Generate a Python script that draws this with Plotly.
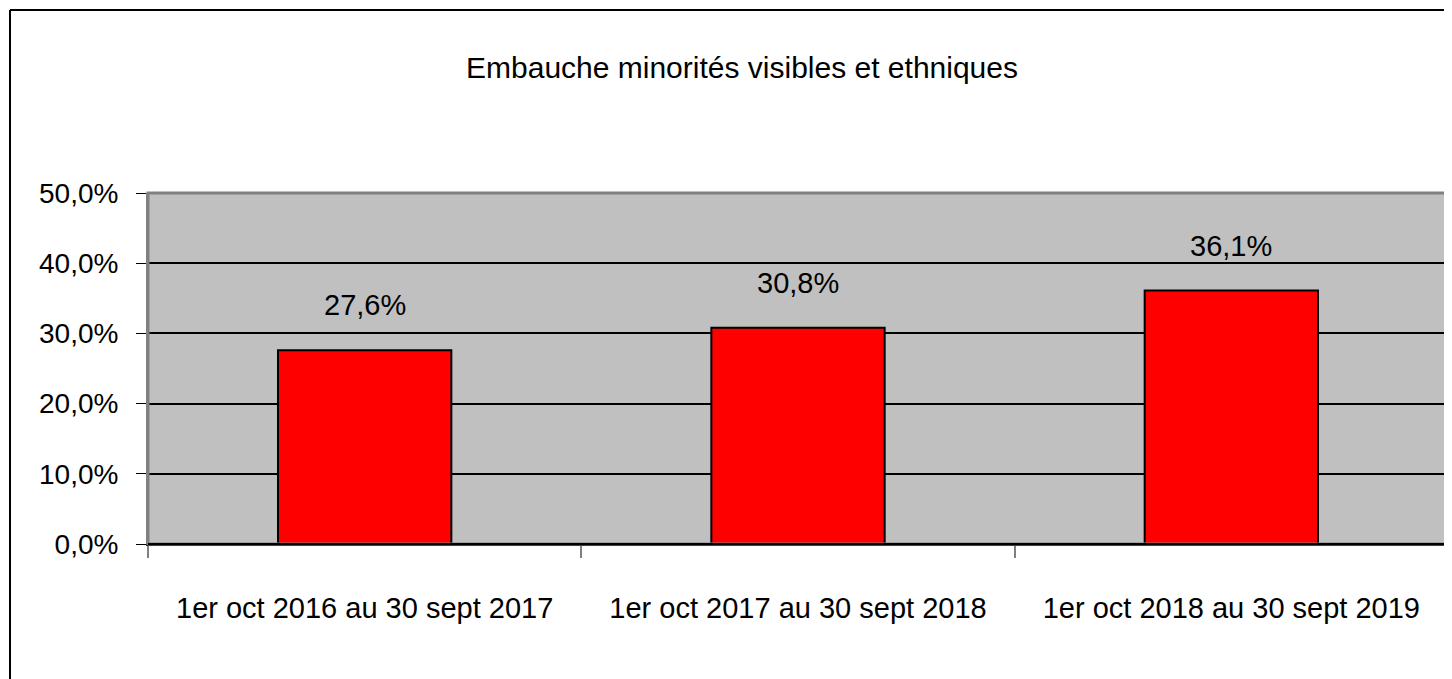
import plotly.graph_objects as go

categories = ["1er oct 2016 au 30 sept 2017", "1er oct 2017 au 30 sept 2018", "1er oct 2018 au 30 sept 2019"]
values = [0.276, 0.308, 0.361]
title_text = "Embauche minorités visibles et ethniques"

FONT = "Liberation Sans, Arial, sans-serif"

# page has an 8px body margin; compensate so the chart lands where the reference has it
W, H = 1444, 671
ML, MR, MT, MB = 140, 4, 185, 135
PW, PH = W - ML - MR, H - MT - MB

fig = go.Figure()
fig.add_trace(go.Bar(
    x=categories, y=values,
    marker=dict(color="#FF0000", line=dict(color="#000000", width=2)),
    width=0.4,
    hoverinfo="skip",
))

for c, v in zip(categories, values):
    fig.add_annotation(x=c, y=v, text=f"{v*100:.1f}%".replace(".", ","),
                       showarrow=False, yshift=45, yanchor="middle",
                       font=dict(family=FONT, size=29, color="#000"))

fig.update_layout(
    width=W, height=H,
    margin=dict(l=ML, r=MR, t=MT, b=MB),
    paper_bgcolor="white",
    plot_bgcolor="#C0C0C0",
    separators=", ",
    showlegend=False,
    title=dict(text=title_text, x=734/W, xanchor="center", y=1 - 59/H, yanchor="middle",
               font=dict(family=FONT, size=30, color="#000")),
    font=dict(family=FONT, color="#000"),
    xaxis=dict(
        tickfont=dict(family=FONT, size=29, color="#000"),
        tickangle=0, automargin=False,
        ticks="outside", tickson="boundaries", ticklen=12, tickcolor="#808080", tickwidth=2,
        showline=True, linecolor="#000", linewidth=2, mirror=False,
        showgrid=False, ticklabelstandoff=37,
    ),
    yaxis=dict(
        range=[0, 0.5], dtick=0.1, tickformat=".1%", automargin=False,
        tickfont=dict(family=FONT, size=28, color="#000"),
        ticks="outside", ticklen=10, tickcolor="#000", tickwidth=1,
        showgrid=True, gridcolor="#000", gridwidth=1.5,
        showline=True, linecolor="#808080", linewidth=2, mirror=False,
        zeroline=False, ticklabelstandoff=12,
    ),
    shapes=[
        dict(type="rect", xref="paper", yref="paper", x0=0, x1=1, y0=0, y1=1,
             line=dict(color="#808080", width=3), fillcolor="rgba(0,0,0,0)", layer="above"),
        dict(type="line", xref="paper", yref="paper", x0=0, x1=1, y0=0, y1=0,
             line=dict(color="#000", width=2), layer="above"),
        dict(type="line", xref="paper", yref="paper", x0=-(ML - 2) / PW, x1=1.1,
             y0=1 + (MT - 2) / PH, y1=1 + (MT - 2) / PH,
             line=dict(color="#000", width=2), layer="above"),
        dict(type="line", xref="paper", yref="paper", x0=-(ML - 2) / PW, x1=-(ML - 2) / PW,
             y0=-(MB + 10) / PH, y1=1 + (MT - 2) / PH,
             line=dict(color="#000", width=2), layer="above"),
    ],
)

fig.write_html("out.html")
